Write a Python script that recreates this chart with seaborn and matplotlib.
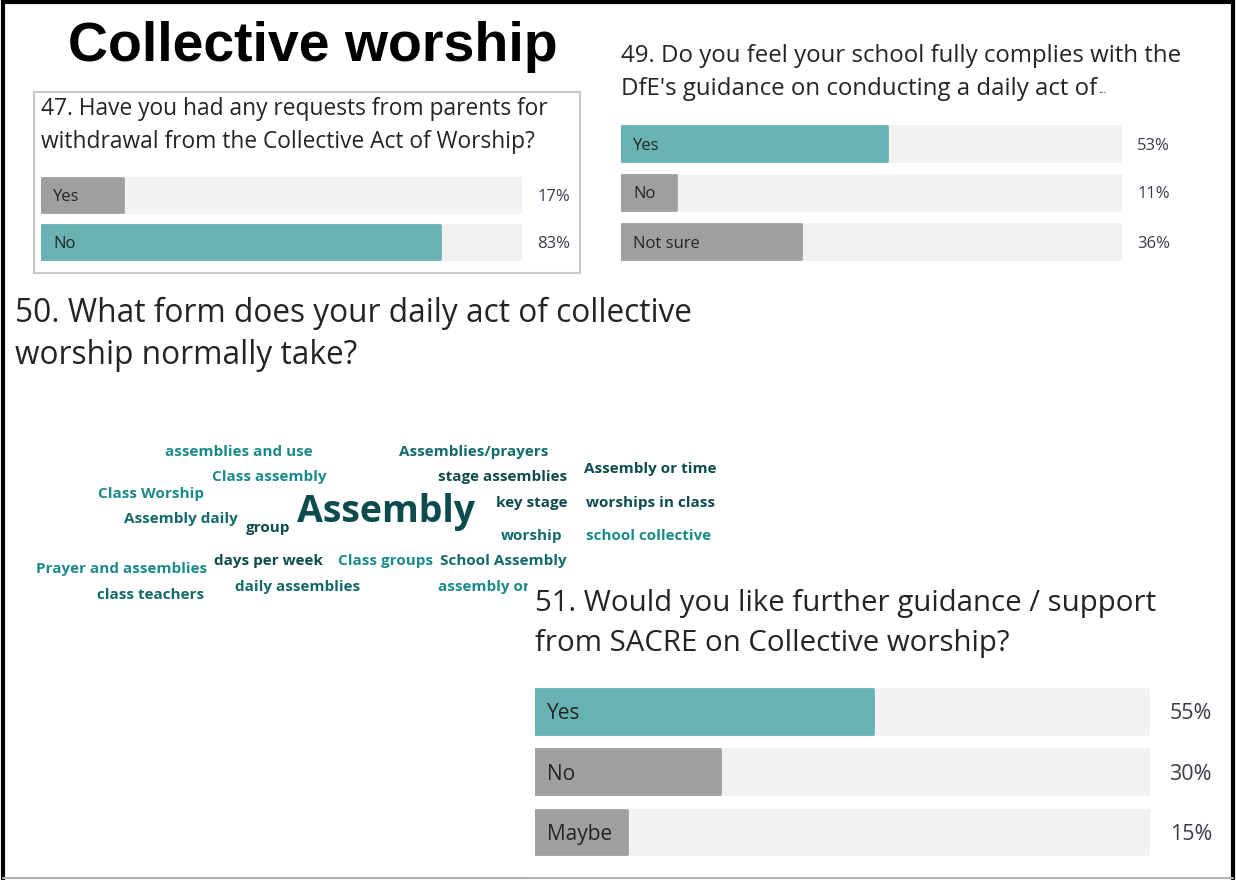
import matplotlib
matplotlib.use("Agg")
import matplotlib.pyplot as plt
import seaborn as sns
from matplotlib.patches import Rectangle
import matplotlib.transforms as mtransforms

sns.set_style("white")
plt.rcParams['font.family'] = ['Open Sans', 'DejaVu Sans']

# ---- data ----
q47_title = ["47. Have you had any requests from parents for",
             "withdrawal from the Collective Act of Worship?"]
q47_cats = ["Yes", "No"]
q47_vals = [17, 83]

q49_title = ["49. Do you feel your school fully complies with the",
             "DfE's guidance on conducting a daily act of"]
q49_cats = ["Yes", "No", "Not sure"]
q49_vals = [53, 11, 36]

q50_title = ["50. What form does your daily act of collective",
             "worship normally take?"]
wc_words = ["assemblies and use", "Class assembly", "Class Worship", "Assembly daily",
            "group", "Assembly", "Assemblies/prayers", "stage assemblies", "key stage",
            "worship", "Assembly or time", "worships in class", "school collective",
            "Prayer and assemblies", "days per week", "Class groups", "School Assembly",
            "class teachers", "daily assemblies", "assembly or"]
wc_weights = [1, 1, 1, 1, 1, 3, 1, 1, 1, 1, 1, 1, 1, 1, 1, 1, 1, 1, 1, 1]
wc_shade = [0, 0, 0, 1, 2, 2, 1, 2, 2, 1, 2, 2, 0, 0, 2, 0, 1, 1, 1, 0]

q51_title = ["51. Would you like further guidance / support",
             "from SACRE on Collective worship?"]
q51_cats = ["Yes", "No", "Maybe"]
q51_vals = [55, 30, 15]

# ---- layout / style ----
W, H = 1236, 880
TEAL = "#68b2b4"
GREY = "#a19f9d"
TRACK = "#f3f2f1"
TXT = "#252423"
PCT = "#3b3a4a"
SHADES = ["#1b8a8b", "#136a6c", "#0d4b4e"]

# word cloud centres in pixels (layout)
wc_pos = [(239, 452), (269, 477), (151, 494), (181, 519), (268, 528), (386, 512),
          (474, 452), (503, 477), (532, 503), (532, 536), (650, 469), (650, 503),
          (649, 536), (122, 569), (268, 561), (386, 561), (503, 561), (151, 595),
          (298, 587), (438, 587)]

fig = plt.figure(figsize=(W / 100, H / 100), dpi=100)
canvas = fig.add_axes([0, 0, 1, 1])
canvas.set_xlim(0, W)
canvas.set_ylim(H, 0)
canvas.axis("off")
canvas.set_zorder(0)

# border
canvas.plot([3, 3, 1233, 1233], [879, 2, 2, 879], color="black", lw=3, solid_joinstyle="miter")
canvas.plot([3, 1233], [878, 878], color="#b0b0b0", lw=1.5)

canvas.text(313, 47, "Collective worship", fontsize=40, fontweight="bold",
            family="Liberation Sans", ha="center", va="center", color="black")

# box around Q47
canvas.add_patch(Rectangle((34, 92), 546, 181, fill=False, ec="#c8c8c8", lw=1.5))


def add_title(lines, x, ys, size, z=3):
    arts = []
    for line, y in zip(lines, ys):
        arts.append(canvas.text(x, y, line, fontsize=size, ha="left", va="center",
                                color=TXT, zorder=z))
    return arts


add_title(q47_title, 41, [109, 142], 16.4)
t49 = add_title(q49_title, 621, [56, 89], 17.3)
canvas.annotate("...", xy=(1, 0.2), xycoords=t49[1], xytext=(1, 0),
                textcoords="offset points", fontsize=7.5, ha="left", va="bottom", color=TXT)
add_title(q50_title, 15, [313, 355], 22.8)


def bar_panel(cats, vals, left, right, top, bottom, width, lab_size, pct_x, pct_size):
    ax = fig.add_axes([left / W, 1 - bottom / H, (right - left) / W, (bottom - top) / H])
    ax.set_zorder(2)
    sns.barplot(x=[100] * len(cats), y=cats, color=TRACK, width=width, ax=ax,
                saturation=1, edgecolor=TRACK, linewidth=2)
    cols = [TEAL if v == max(vals) else GREY for v in vals]
    sns.barplot(x=vals, y=cats, hue=cats, palette=cols, width=width, ax=ax,
                saturation=1, legend=False, linewidth=2)
    for p, c in zip(ax.patches[len(cats):], cols):
        p.set_edgecolor(c)
    for p in ax.patches:
        p.set_joinstyle("round")
    ax.set_xlim(0, 100)
    ax.set_ylim(len(cats) - 0.5, -0.5)
    ax.axis("off")
    tr = mtransforms.blended_transform_factory(ax.transAxes, ax.transData)
    for i, (c, v) in enumerate(zip(cats, vals)):
        ax.text(12 / (right - left), i, c, transform=tr, fontsize=lab_size,
                ha="left", va="center_baseline", color=TXT)
        ax.text((pct_x - left) / (right - left), i, f"{v}%", transform=tr,
                fontsize=pct_size, ha="right", va="center_baseline", color=PCT,
                clip_on=False)
    return ax


bar_panel(q47_cats, q47_vals, 41, 522, 171.5, 265.5, 0.72, 12, 570, 12)
bar_panel(q49_cats, q49_vals, 621, 1122, 119, 266, 0.71, 12, 1170, 12)

# word cloud
for word, wgt, sh, (x, y) in zip(wc_words, wc_weights, wc_shade, wc_pos):
    size = 11 if wgt == 1 else 27
    ha = "left" if word == "assembly or" else "center"
    canvas.text(x, y, word, fontsize=size, fontweight="bold", ha=ha, va="center",
                color=SHADES[sh], zorder=3)

# Q51 panel covers the clipped word
canvas.add_patch(Rectangle((528, 578), 700, 298, color="white", zorder=4))
add_title(q51_title, 535, [604, 643], 21.2, z=5)
bar_panel(q51_cats, q51_vals, 535, 1150, 681.3, 862, 0.74, 15, 1212, 15.5)

fig.savefig("out.png", dpi=100)
